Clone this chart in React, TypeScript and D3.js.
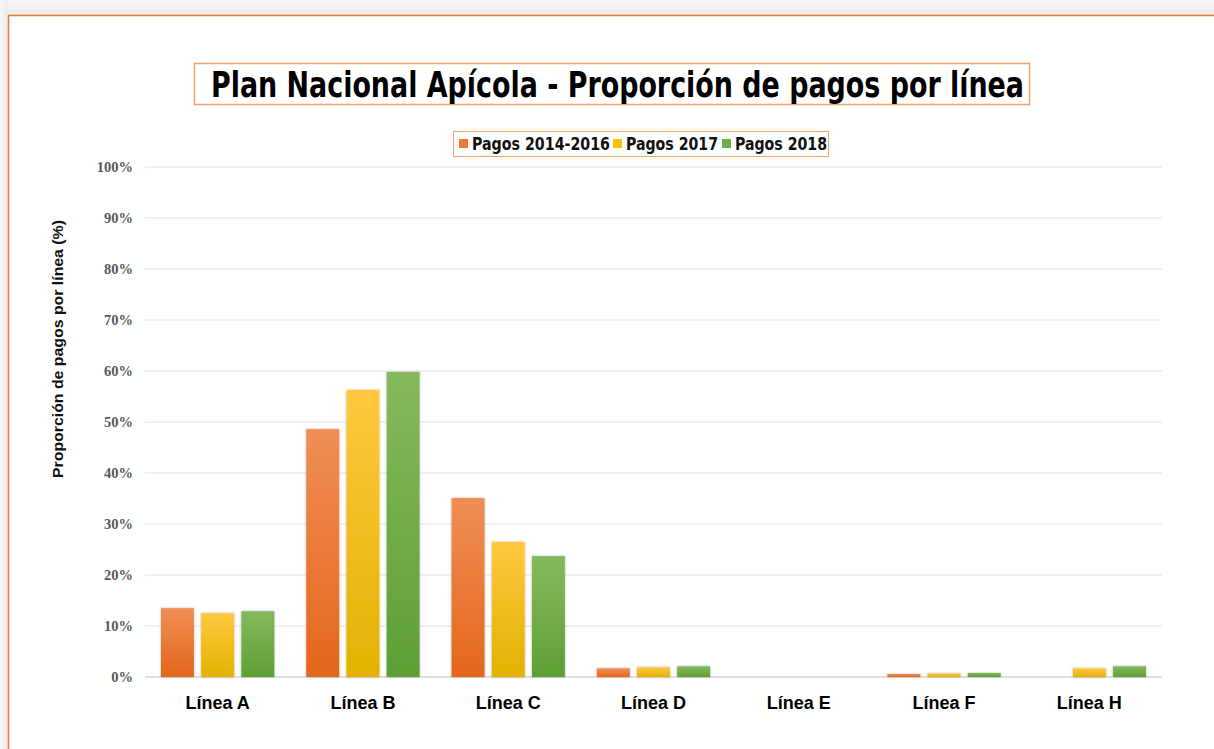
import React from "react";
import * as d3 from "d3";

const categories = ["Línea A", "Línea B", "Línea C", "Línea D", "Línea E", "Línea F", "Línea H"];
const seriesNames = ["Pagos 2014-2016", "Pagos 2017", "Pagos 2018"];
const pagos2014_2016 = [13.5, 48.6, 35.1, 1.7, 0, 0.6, 0];
const pagos2017 = [12.5, 56.3, 26.5, 1.9, 0, 0.7, 1.7];
const pagos2018 = [12.9, 59.8, 23.7, 2.1, 0, 0.8, 2.1];
const yTicks = [0, 10, 20, 30, 40, 50, 60, 70, 80, 90, 100];

const seriesValues = [pagos2014_2016, pagos2017, pagos2018];
const gradients = [
  { id: "gOr", top: "#F08E55", bottom: "#E4661B", legend: "#ED7D31" },
  { id: "gYe", top: "#FFC840", bottom: "#E2B200", legend: "#FFC000" },
  { id: "gGr", top: "#84B95C", bottom: "#5E9F35", legend: "#70AD47" },
];

const W = 1214;
const H = 749;
const plot = { left: 145, right: 1162, top: 167, bottom: 677 };
const condensed = "'DejaVu Sans Condensed', 'Liberation Sans Narrow', 'Liberation Sans', sans-serif";

export default function App() {
  const x = d3.scaleBand<string>().domain(categories).range([plot.left, plot.right]).paddingInner(0.22).paddingOuter(0.11);
  const x1 = d3.scaleBand<number>().domain([0, 1, 2]).range([0, x.bandwidth()]).paddingInner(0.18);
  const y = d3.scaleLinear().domain([0, 100]).range([plot.bottom, plot.top]);

  const legendItems = [
    { x: 459, tx: 472, w: 138 },
    { x: 613, tx: 626, w: 92 },
    { x: 722, tx: 735, w: 92 },
  ];

  return (
    <svg width={W} height={H} style={{ position: "absolute", left: 0, top: 0, background: "#fff" }}>
      <defs>
        {gradients.map((g) => (
          <linearGradient key={g.id} id={g.id} x1="0" y1="0" x2="0" y2="1">
            <stop offset="0%" stopColor={g.top} />
            <stop offset="100%" stopColor={g.bottom} />
          </linearGradient>
        ))}
        <linearGradient id="topBg" x1="0" y1="0" x2="0" y2="1">
          <stop offset="0%" stopColor="#f8f8f8" />
          <stop offset="100%" stopColor="#ebebeb" />
        </linearGradient>
        <linearGradient id="leftBg" x1="0" y1="0" x2="1" y2="0">
          <stop offset="0%" stopColor="#f8f8f8" />
          <stop offset="100%" stopColor="#ececec" />
        </linearGradient>
        <filter id="shadow" x="-20%" y="-20%" width="140%" height="140%">
          <feDropShadow dx="0" dy="0" stdDeviation="1.2" floodColor="#000" floodOpacity="0.3" />
        </filter>
      </defs>
      <rect x={0} y={0} width={W} height={H} fill="#fff" />
      <rect x={0} y={0} width={W} height={15} fill="url(#topBg)" />
      <rect x={0} y={0} width={8} height={H} fill="url(#leftBg)" />
      <rect x={8.5} y={15.5} width={W + 10} height={H + 10} fill="#fff" stroke="#F0782D" strokeWidth={1.5} />

      {/* Title */}
      <rect x={194.5} y={63.5} width={835} height={41} fill="#fff" stroke="#F4A36F" strokeWidth={1.5} />
      <text x={211} y={97} fontFamily={condensed} fontWeight="bold" fontSize={35} textLength={813} lengthAdjust="spacingAndGlyphs" fill="#000">
        Plan Nacional Apícola - Proporción de pagos por línea
      </text>

      {/* Legend */}
      <rect x={453.5} y={131.5} width={375} height={25} fill="#fff" stroke="#F4A36F" strokeWidth={1} />
      {seriesNames.map((s, i) => (
        <g key={s}>
          <rect x={legendItems[i].x} y={139} width={9} height={9} fill={gradients[i].legend} />
          <text x={legendItems[i].tx} y={149.5} fontFamily={condensed} fontWeight="bold" fontSize={17} textLength={legendItems[i].w} lengthAdjust="spacingAndGlyphs" fill="#111">
            {s}
          </text>
        </g>
      ))}

      {/* Gridlines */}
      {yTicks.map((t) => (
        <g key={t}>
          <line x1={plot.left} x2={plot.right} y1={y(t)} y2={y(t)} stroke={t === 0 ? "#d4d4d4" : "#e3e3e3"} strokeWidth={t === 0 ? 1.5 : 1} />
          <text x={133} y={y(t) + 5} textAnchor="end" fontFamily="'Liberation Serif', 'DejaVu Serif', serif" fontWeight="bold" fontSize={14.5} fill="#595959">
            {t}%
          </text>
        </g>
      ))}

      {/* Y-axis title */}
      <text transform={`translate(63, 349) rotate(-90)`} textAnchor="middle" fontFamily="'Liberation Sans', Arial, sans-serif" fontWeight="bold" fontSize={15} textLength={258} lengthAdjust="spacingAndGlyphs" fill="#111">
        Proporción de pagos por línea (%)
      </text>

      {/* Bars */}
      {categories.map((c, ci) => (
        <g key={c}>
          {seriesValues.map((vals, si) =>
            vals[ci] > 0 ? (
              <rect
                key={si}
                x={(x(c) ?? 0) + (x1(si) ?? 0)}
                y={y(vals[ci])}
                width={x1.bandwidth()}
                height={y(0) - y(vals[ci])}
                fill={`url(#${gradients[si].id})`}
                filter="url(#shadow)"
              />
            ) : null
          )}
          <text x={(x(c) ?? 0) + x.bandwidth() / 2} y={709} textAnchor="middle" fontFamily="'Liberation Sans', Arial, sans-serif" fontWeight="bold" fontSize={18} fill="#000">
            {c}
          </text>
        </g>
      ))}
    </svg>
  );
}
